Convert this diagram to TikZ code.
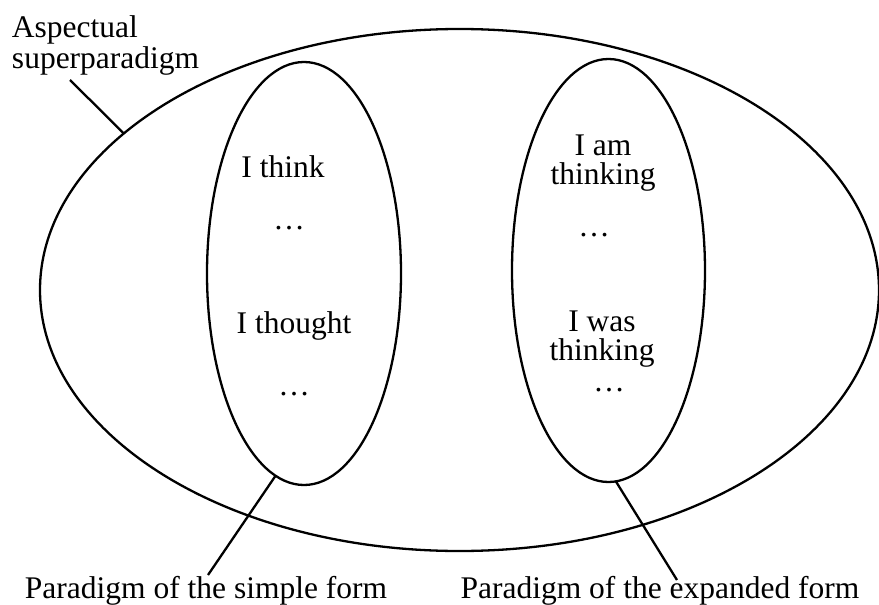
\documentclass[tikz,border=0pt]{standalone}
\usepackage{fontspec}
\setmainfont{Liberation Serif}
\usetikzlibrary{shapes.geometric}
\begin{document}
\begin{tikzpicture}[x=1pt,y=-1pt,
  every node/.style={inner sep=0pt, outer sep=0pt},
  oval/.style={draw, ellipse, line width=2.3pt, inner sep=0pt},
  txt/.style={font=\fontsize{31.5}{31}\selectfont, anchor=base, align=center},
  leader/.style={line width=2.3pt}]
\useasboundingbox (0,0) rectangle (879,605);
% ellipses
\node[oval, minimum width=839pt, minimum height=522pt] (big) at (459.5,290) {};
\node[oval, minimum width=194pt, minimum height=423pt] (simple) at (304,273.5) {};
\node[oval, minimum width=193pt, minimum height=423pt] (expanded) at (608.5,270.5) {};
% texts (multi-line nodes: base = baseline of last line)
\node[txt, anchor=base west, align=left] (asp) at (12,68) {Aspectual\\superparadigm};
\node[txt] (think) at (283,177) {I think};
\node[txt] (d1) at (289,229) {\dots};
\node[txt] (thought) at (294,333) {I thought};
\node[txt] (d2) at (294,395) {\dots};
\node[txt, font=\fontsize{31.5}{29}\selectfont] (am) at (603,184) {I am\\thinking};
\node[txt] (d3) at (594,236) {\dots};
\node[txt, font=\fontsize{31.5}{29}\selectfont] (was) at (602,360) {I was\\thinking};
\node[txt] (d4) at (609,391) {\dots};
\node[txt] (lsimple) at (206,598) {Paradigm of the simple form};
\node[txt] (lexp) at (660,598) {Paradigm of the expanded form};
% leaders
\coordinate (aspfoot) at (70,80);
\coordinate (simplefoot) at (208,575);
\coordinate (expfoot) at (677,580);
\draw[leader] (aspfoot) -- (big.155);
\draw[leader] (simple.262) -- (simplefoot);
\draw[leader] (expanded.272) -- (expfoot);
\end{tikzpicture}
\end{document}
